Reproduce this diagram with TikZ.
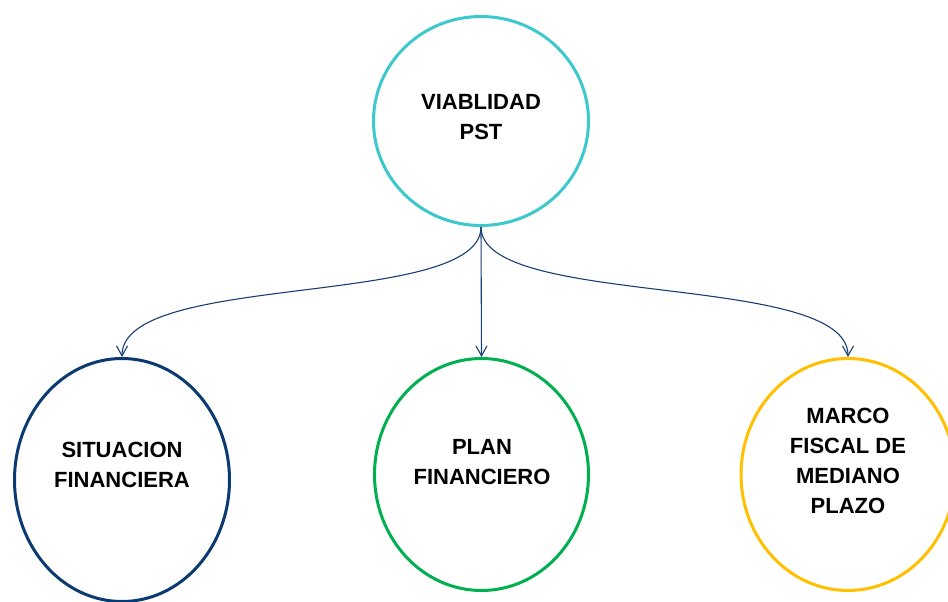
\documentclass[tikz,border=0pt]{standalone}
\usepackage{fontspec}
\setmainfont{Liberation Sans}
\usetikzlibrary{shapes.geometric,arrows.meta}
\definecolor{cTop}{HTML}{3CC8CC}
\definecolor{cLeft}{HTML}{0A3A70}
\definecolor{cMid}{HTML}{00B050}
\definecolor{cRight}{HTML}{FFC000}
\definecolor{cArrow}{HTML}{173F73}
\tikzset{
  bubble/.style={ellipse, draw, line width=3pt, inner sep=0pt},
  lbl/.style={anchor=north, inner sep=0pt, align=center, text=black,
    font=\fontsize{22}{30}\selectfont\bfseries},
  conn/.style={draw=cArrow, line width=1.1pt, -{Straight Barb[length=10pt,width=11pt]}}
}
\begin{document}
\begin{tikzpicture}[x=1pt,y=-1pt]
\useasboundingbox (0,0) rectangle (948,602);
\node[bubble, draw=cTop, minimum width=215pt, minimum height=209pt] (top) at (481,121) {};
\node[bubble, draw=cLeft, minimum width=215pt, minimum height=243pt] (left) at (122,480) {};
\node[bubble, draw=cMid, minimum width=214pt, minimum height=232pt] (mid) at (481.5,474.5) {};
\node[bubble, draw=cRight, minimum width=214pt, minimum height=232pt] (right) at (848,474.5) {};
\node[lbl] (ttop) at (481,94.2) {VIABLIDAD\\PST};
\node[lbl] (tleft) at (122,441.5) {SITUACION\\FINANCIERA};
\node[lbl] (tmid) at (482,439) {PLAN\\FINANCIERO};
\node[lbl] (tright) at (848,408) {MARCO\\FISCAL DE\\MEDIANO\\PLAZO};
\draw[conn] (top.south) .. controls +(0,82) and +(0,-86) .. (left.north);
\draw[conn] (top.south) -- (mid.north);
\draw[conn] (top.south) .. controls +(0,82) and +(0,-86) .. (right.north);
\end{tikzpicture}
\end{document}
